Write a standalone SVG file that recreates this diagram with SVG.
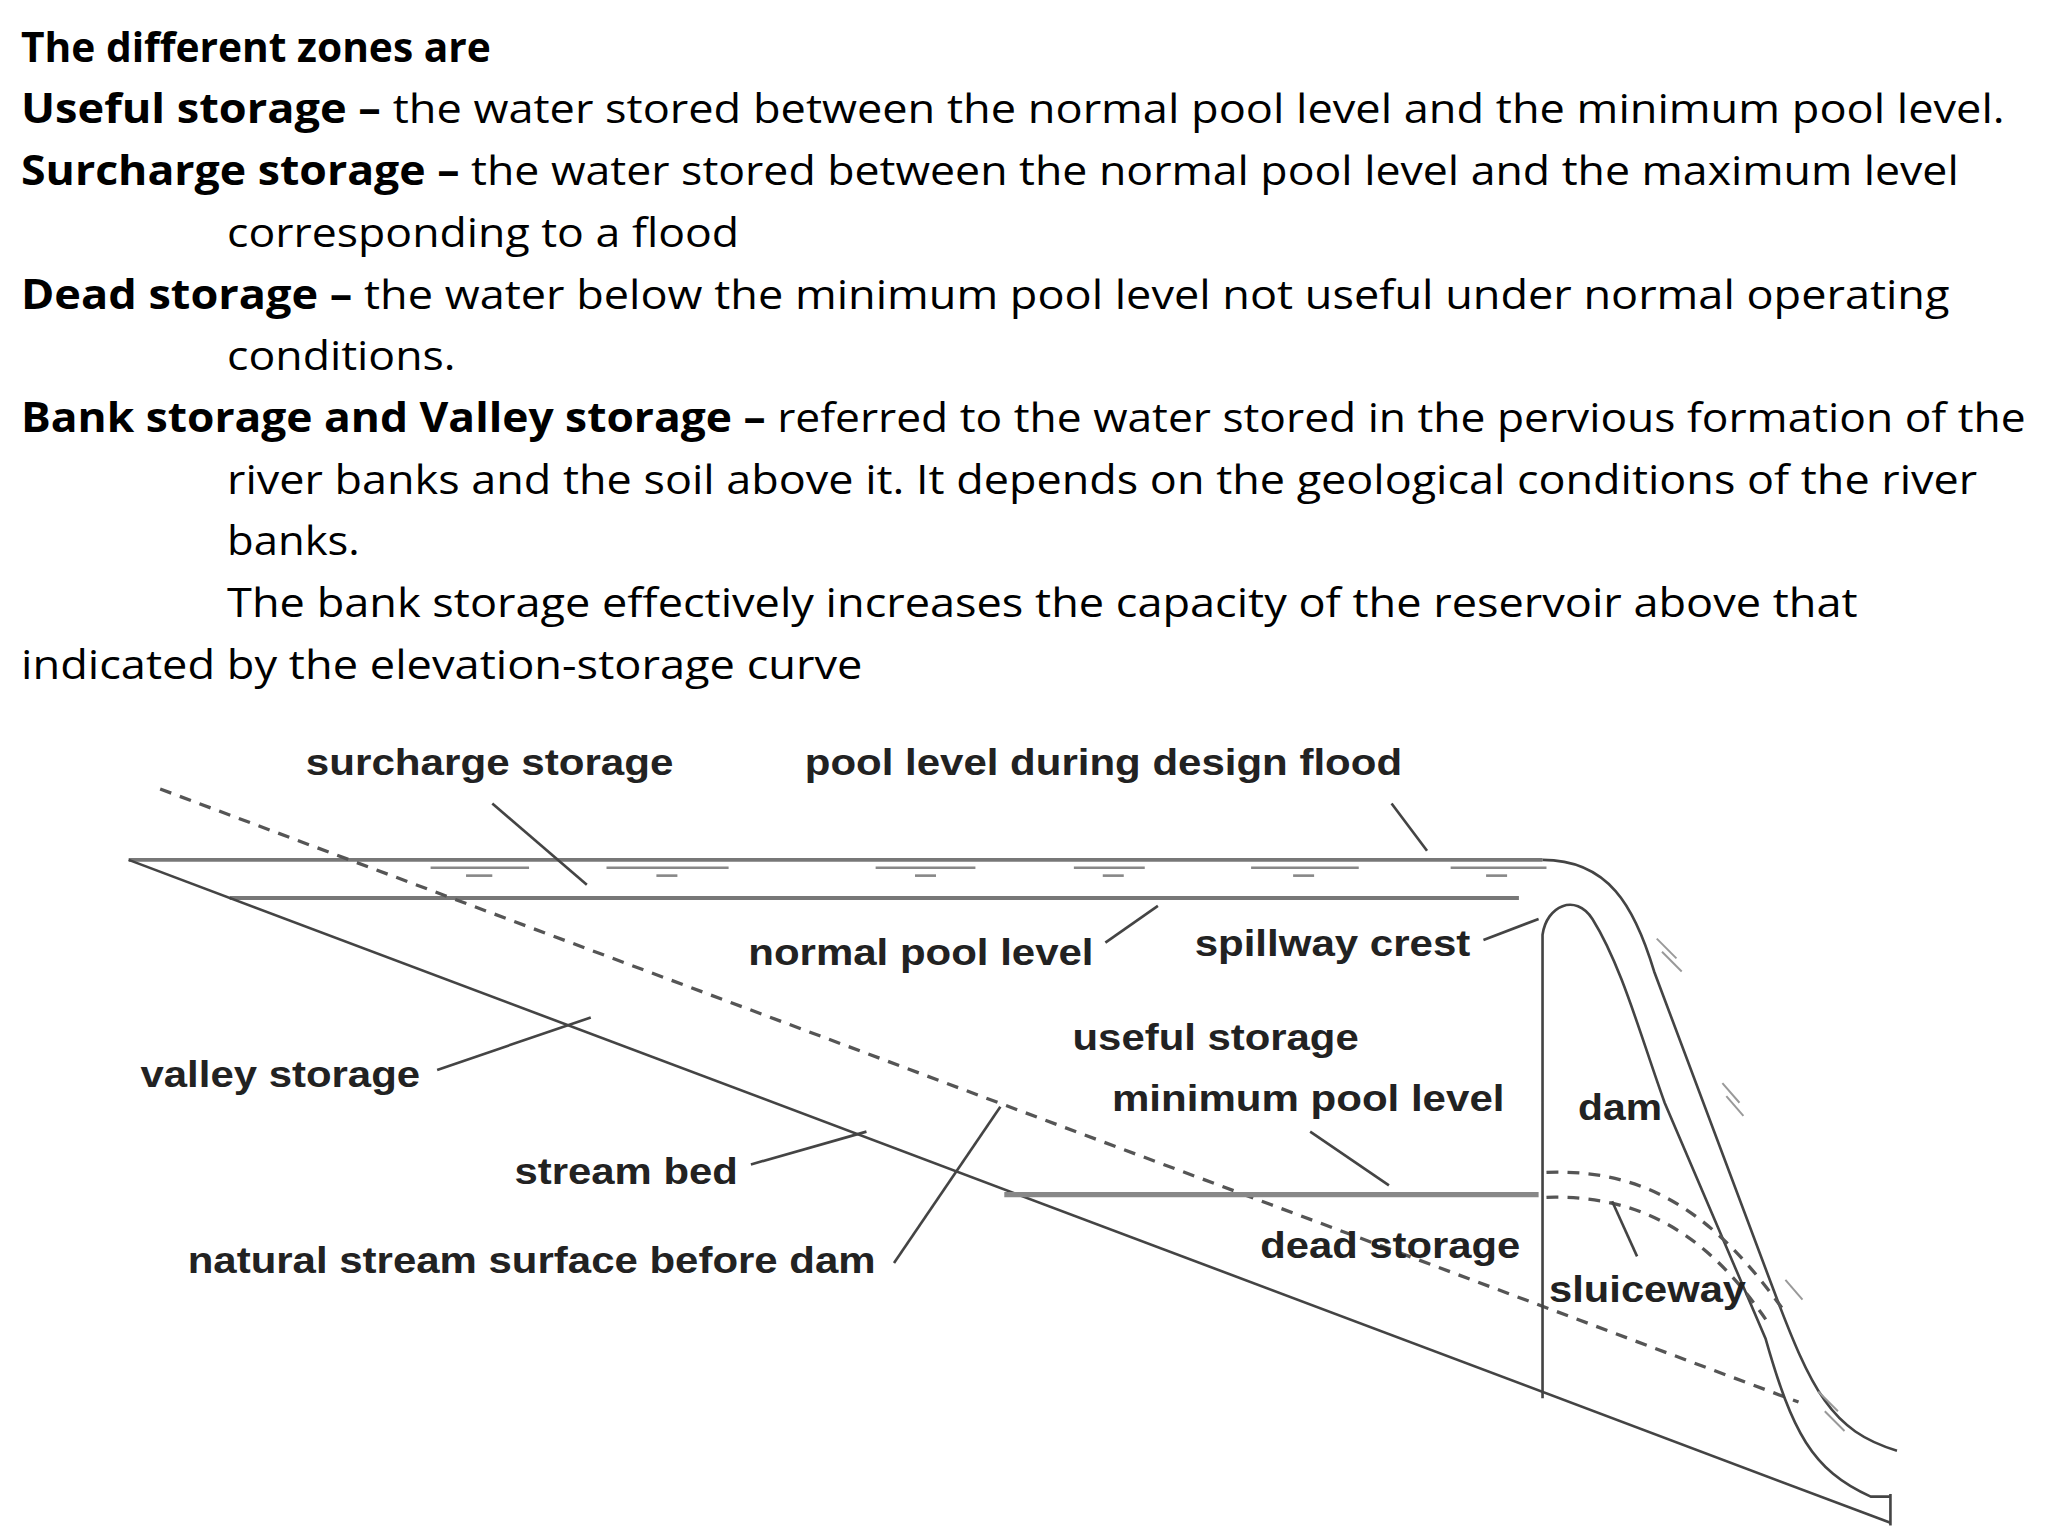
<svg xmlns="http://www.w3.org/2000/svg" width="2048" height="1536" viewBox="0 0 2048 1536">
<style>
.t{font-family:"Open Sans","Liberation Sans",sans-serif;font-size:31px;fill:#000}
.b{font-weight:bold}
.l{font-family:"Liberation Sans",Arial,sans-serif;font-weight:bold;font-size:28px;fill:#222}
.ln{stroke:#444;stroke-width:2;fill:none}
.g{stroke:#777;stroke-width:3;fill:none}
.d{stroke:#555;stroke-width:2.5;fill:none;stroke-dasharray:9 7}
</style>
<rect width="2048" height="1536" fill="#fff"/>
<g transform="scale(1.3128)">
<g id="text">
<text class="t b" x="16" y="47">The different zones are</text>
<text class="t" x="16" y="94" textLength="1511" lengthAdjust="spacingAndGlyphs"><tspan class="b">Useful storage –</tspan> the  water stored between the normal pool level and the minimum pool level.</text>
<text class="t" x="16" y="141" textLength="1476" lengthAdjust="spacingAndGlyphs"><tspan class="b">Surcharge storage –</tspan> the water stored between the normal pool level and the maximum level</text>
<text class="t" x="173" y="188" textLength="390" lengthAdjust="spacingAndGlyphs">corresponding to a flood</text>
<text class="t" x="16" y="235" textLength="1469" lengthAdjust="spacingAndGlyphs"><tspan class="b">Dead storage –</tspan> the water below the minimum pool level  not useful under normal operating</text>
<text class="t" x="173" y="282" textLength="174" lengthAdjust="spacingAndGlyphs">conditions.</text>
<text class="t" x="16" y="329" textLength="1527" lengthAdjust="spacingAndGlyphs"><tspan class="b">Bank storage and Valley storage –</tspan> referred to the water stored in the pervious formation of the</text>
<text class="t" x="173" y="376" textLength="1333" lengthAdjust="spacingAndGlyphs">river banks and the soil above it. It depends on the geological conditions of the river</text>
<text class="t" x="173" y="423" textLength="101" lengthAdjust="spacingAndGlyphs">banks.</text>
<text class="t" x="173" y="470" textLength="1242" lengthAdjust="spacingAndGlyphs">The bank storage effectively increases the capacity of the reservoir above that</text>
<text class="t" x="16" y="517" textLength="641" lengthAdjust="spacingAndGlyphs">indicated by the elevation-storage curve</text>
</g>
<g id="diagram">
<line class="g" x1="98" y1="655" x2="1175" y2="655"/>
<line class="g" x1="175" y1="684" x2="1157" y2="684"/>
<line class="ln" x1="98" y1="655" x2="1440" y2="1160"/>
<line class="ln" x1="1440" y1="1138" x2="1440" y2="1162"/>
<line class="d" x1="122" y1="601" x2="1370" y2="1068"/>
<line stroke="#888" stroke-width="4" x1="765" y1="910" x2="1172" y2="910"/>
<path class="ln" d="M1175,655 C1225,655 1245,690 1260,740 L1350,980 C1380,1060 1395,1090 1445,1105"/>
<path class="ln" d="M1175,1065 L1175,712 C1178,690 1200,680 1213,700 C1235,735 1250,790 1268,840 L1345,1020 C1365,1090 1380,1120 1425,1140 L1440,1140"/>
<path class="d" d="M1178,893 C1260,890 1310,930 1360,1000"/>
<path class="d" d="M1178,912 C1250,910 1300,940 1345,1005"/>
<g stroke="#999" stroke-width="1.5">
<line x1="1262" y1="715" x2="1277" y2="730"/><line x1="1266" y1="725" x2="1281" y2="740"/>
<line x1="1312" y1="825" x2="1325" y2="840"/><line x1="1315" y1="835" x2="1328" y2="850"/>
<line x1="1360" y1="975" x2="1373" y2="990"/><line x1="1385" y1="1060" x2="1400" y2="1075"/>
<line x1="1390" y1="1075" x2="1405" y2="1090"/>
</g>
<g stroke="#888" stroke-width="2">
<line x1="328" y1="661" x2="403" y2="661"/><line x1="355" y1="667" x2="375" y2="667"/>
<line x1="462" y1="661" x2="555" y2="661"/><line x1="500" y1="667" x2="516" y2="667"/>
<line x1="667" y1="661" x2="743" y2="661"/><line x1="697" y1="667" x2="713" y2="667"/>
<line x1="818" y1="661" x2="872" y2="661"/><line x1="840" y1="667" x2="856" y2="667"/>
<line x1="953" y1="661" x2="1035" y2="661"/><line x1="985" y1="667" x2="1001" y2="667"/>
<line x1="1105" y1="661" x2="1178" y2="661"/><line x1="1132" y1="667" x2="1148" y2="667"/>
</g>
</g>
<g id="connectors" class="ln">
<line x1="375" y1="612" x2="447" y2="674"/>
<line x1="1060" y1="612" x2="1087" y2="648"/>
<line x1="842" y1="718" x2="882" y2="690"/>
<line x1="1130" y1="716" x2="1172" y2="700"/>
<line x1="333" y1="815" x2="450" y2="775"/>
<line x1="572" y1="887" x2="660" y2="862"/>
<line x1="681" y1="962" x2="762" y2="843"/>
<line x1="998" y1="862" x2="1058" y2="903"/>
<line x1="1228" y1="915" x2="1247" y2="957"/>
</g>
<g id="labels">
<text class="l" x="233" y="590" textLength="280" lengthAdjust="spacingAndGlyphs">surcharge storage</text>
<text class="l" x="613" y="590" textLength="455" lengthAdjust="spacingAndGlyphs">pool level during design flood</text>
<text class="l" x="570" y="735" textLength="263" lengthAdjust="spacingAndGlyphs">normal pool level</text>
<text class="l" x="910" y="728" textLength="210" lengthAdjust="spacingAndGlyphs">spillway crest</text>
<text class="l" x="817" y="800" textLength="218" lengthAdjust="spacingAndGlyphs">useful storage</text>
<text class="l" x="107" y="828" textLength="213" lengthAdjust="spacingAndGlyphs">valley storage</text>
<text class="l" x="847" y="846" textLength="299" lengthAdjust="spacingAndGlyphs">minimum pool level</text>
<text class="l" x="1202" y="853" textLength="64" lengthAdjust="spacingAndGlyphs">dam</text>
<text class="l" x="392" y="902" textLength="170" lengthAdjust="spacingAndGlyphs">stream bed</text>
<text class="l" x="143" y="970" textLength="524" lengthAdjust="spacingAndGlyphs">natural stream surface before dam</text>
<text class="l" x="960" y="958" textLength="198" lengthAdjust="spacingAndGlyphs">dead storage</text>
<text class="l" x="1180" y="992" textLength="150" lengthAdjust="spacingAndGlyphs">sluiceway</text>
</g>
</g>
</svg>
